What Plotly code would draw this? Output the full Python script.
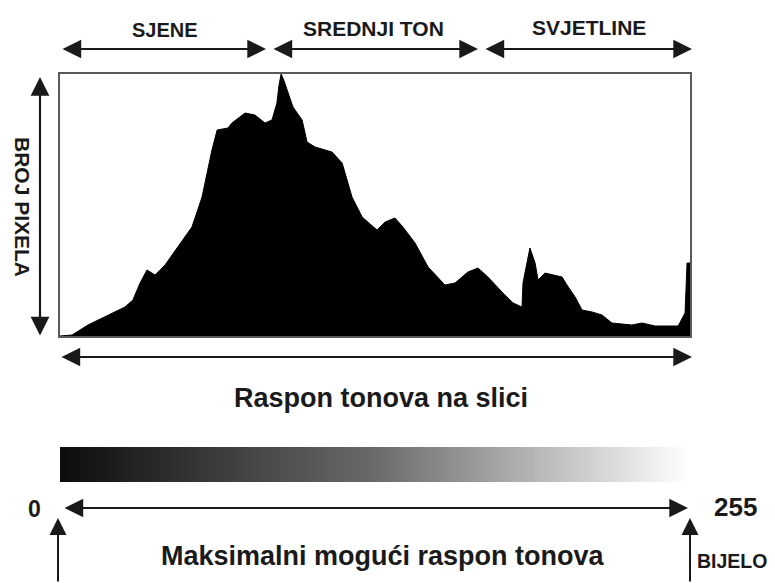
import plotly.graph_objects as go

# ---- data ----
tones = [0, 4.9, 11.3, 18.2, 26.3, 29.5, 32.4, 35.2, 38.5, 42.5, 47.8, 53.4, 57.5, 59.9,
         61.5, 63.6, 68, 69.6, 74.9, 78.9, 83, 85.8, 87.8, 88.6, 89.5, 90.7, 91.9, 94.3,
         98, 100, 103.2, 110.1, 114.2, 118.2, 122.3, 128.3, 131.6, 135.6, 138.8, 143.7,
         149, 155.8, 159.9, 165.1, 169.2, 173.2, 178.9, 183.4, 187, 187.4, 189, 190.2,
         192.3, 193.5, 196.3, 200.4, 203.2, 205.2, 208.5, 211.3, 215.4, 219.4, 223.4,
         231.5, 235.6, 240.9, 250.2, 253, 253.8, 255]
pixel_counts = [0, 1, 11, 19, 29, 36, 53, 66, 61, 71, 89, 109, 139, 166,
                186, 206, 208, 213, 223, 221, 213, 216, 233, 250, 262, 255, 246, 229,
                216, 194, 189, 184, 173, 139, 119, 106, 114, 118, 109, 93,
                69, 51, 53, 64, 68, 59, 44, 33, 29, 53, 73, 88,
                73, 56, 63, 61, 59, 51, 39, 26, 24, 21, 13,
                11, 13, 10, 10, 23, 73, 73]
gradient_levels = list(range(256))

zone_labels = ["SJENE", "SREDNJI TON", "SVJETLINE"]
axis_label = "BROJ PIXELA"
range_label = "Raspon tonova na slici"
max_label = "Maksimalni mogući raspon tonova"
min_value_label = "0"
max_value_label = "255"
white_label = "BIJELO"

# ---- layout geometry (pixels, in screenshot coordinates) ----
PAGE_OFF = 8                       # default body margin of the html page
W, H = 775 - PAGE_OFF, 583 - PAGE_OFF
L, R, T, B = 60, 690, 74, 482      # paper area in screenshot pixels


def px(x):
    return (x - L) / (R - L)


def py(y):
    return (B - y) / (B - T)


FONT = "Liberation Sans, Arial, sans-serif"
INK = "#1a1a1a"

fig = go.Figure()

fig.add_trace(go.Scatter(
    x=tones, y=pixel_counts, mode="lines", fill="tozeroy",
    line=dict(color="black", width=1), fillcolor="black",
    hoverinfo="skip", showlegend=False, xaxis="x", yaxis="y"))

fig.add_trace(go.Heatmap(
    x=gradient_levels, y=[0], z=[gradient_levels],
    colorscale=[[0, "#0d0d0d"], [0.5, "#6a6a6a"], [1, "#ffffff"]], showscale=False,
    hoverinfo="skip", xaxis="x2", yaxis="y2"))

annotations = []


def text(t, x, y, size, angle=0, anchor="center"):
    annotations.append(dict(
        text=t, x=px(x), y=py(y), xref="paper", yref="paper",
        xanchor=anchor, yanchor="middle", showarrow=False, textangle=angle,
        font=dict(family=FONT, size=size, color=INK, weight="bold")))


def arrow(x0, y0, x1, y1, both=True, width=2.2, size=1.7):
    annotations.append(dict(
        text="", x=px(x1), y=py(y1), xref="paper", yref="paper",
        ax=x0 - x1, ay=y0 - y1, axref="pixel", ayref="pixel",
        showarrow=True, arrowhead=2, startarrowhead=2,
        arrowside="end+start" if both else "end",
        arrowsize=size, startarrowsize=size, arrowwidth=width,
        arrowcolor=INK, standoff=0, startstandoff=0))


# top zone arrows and labels
arrow(61, 49, 266, 49)
arrow(272, 49, 478, 49)
arrow(484, 49, 692, 49)
text(zone_labels[0], 165, 30, 20)
text(zone_labels[1], 373, 29, 21)
text(zone_labels[2], 589, 28, 21)

# vertical axis arrow and label
arrow(40, 337, 40, 77)
text(axis_label, 22, 207, 21, angle=90)

# range arrow below histogram
arrow(60, 357, 692, 357)
text(range_label, 381, 398, 27)

# full range arrow
arrow(63, 508, 688, 508)
text(min_value_label, 34, 509, 23)
text(max_value_label, 735, 507, 26)
text(max_label, 383, 556, 27)

# up arrows at the ends
arrow(58, 600, 58, 518, both=False, width=2)
arrow(690, 600, 690, 518, both=False, width=2)
text(white_label, 695, 561, 19.5, anchor="left")

hist_bottom = 336
fig.update_layout(
    width=W, height=H,
    margin=dict(l=L - PAGE_OFF, r=775 - R, t=T - PAGE_OFF, b=583 - B, pad=0),
    paper_bgcolor="white", plot_bgcolor="white",
    showlegend=False,
    xaxis=dict(range=[0, 255], domain=[0, 1], anchor="y",
               showticklabels=False, ticks="", showgrid=False, zeroline=False,
               showline=True, mirror=True, linecolor="#5a5a5a", linewidth=2),
    yaxis=dict(range=[0, 262], domain=[py(hist_bottom), 1], anchor="x",
               showticklabels=False, ticks="", showgrid=False, zeroline=False,
               showline=True, mirror=True, linecolor="#5a5a5a", linewidth=2),
    xaxis2=dict(range=[-0.5, 255.5], domain=[0, 1], anchor="y2", visible=False),
    yaxis2=dict(range=[-0.5, 0.5], domain=[0, py(447)], anchor="x2", visible=False),
    annotations=annotations,
)

fig.write_html("out.html")
